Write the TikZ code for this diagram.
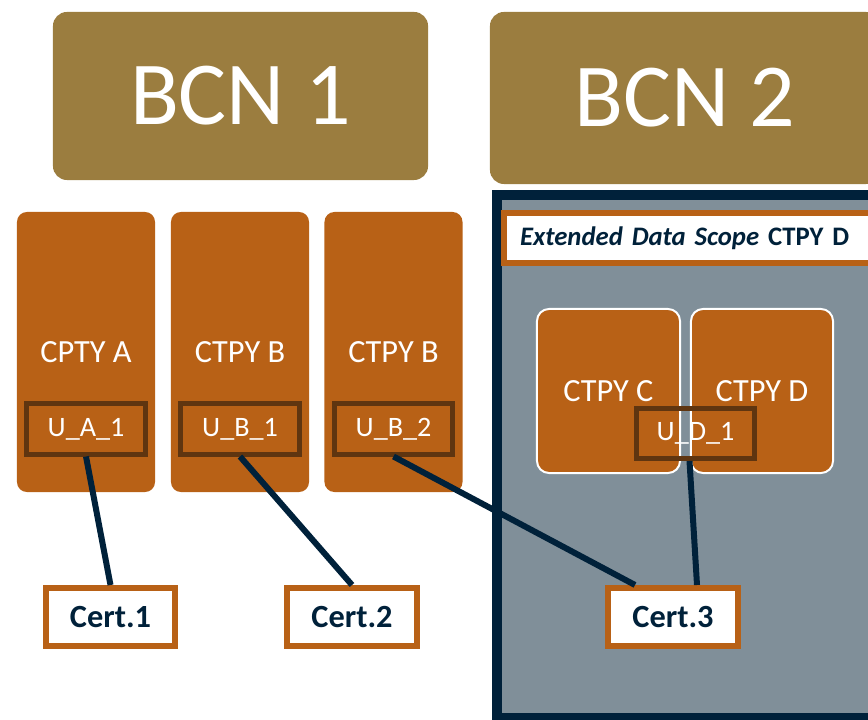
\documentclass[tikz,border=0pt]{standalone}
\usepackage{fontspec}
\setmainfont{Carlito}
\usetikzlibrary{positioning}
\definecolor{bcngold}{HTML}{9B7D3F}
\definecolor{cptyorange}{HTML}{B86116}
\definecolor{userbrown}{HTML}{5F3510}
\definecolor{scopegray}{HTML}{808F99}
\definecolor{navy}{HTML}{00213A}
\begin{document}
\begin{tikzpicture}[x=0.025cm,y=-0.025cm,
	bcn/.style={fill=bcngold,rounded corners=0.35cm,text=white,inner sep=0pt,font=\fontsize{64}{64}\selectfont},
	cpty/.style={fill=cptyorange,rounded corners=0.25cm,text=white,inner sep=0pt,minimum width=3.45cm,minimum height=7cm,font=\fontsize{23}{23}\selectfont},
	cptyin/.style={cpty,draw=white,line width=0.05cm,rounded corners=0.3cm,minimum width=3.55cm,minimum height=4.1cm},
	user/.style={draw=userbrown,line width=0.125cm,text=white,inner sep=0pt,minimum width=2.95cm,minimum height=1.25cm,font=\fontsize{20}{20}\selectfont},
	cert/.style={draw=cptyorange,fill=white,line width=0.15cm,text=navy,inner sep=0pt,minimum width=3.225cm,minimum height=1.45cm,font=\bfseries\fontsize{23}{23}\selectfont},
	wire/.style={draw=navy,line width=0.15cm}]
	\useasboundingbox (0,0) rectangle (868,720);
	\clip (0,0) rectangle (868,720);

	\node[bcn,minimum width=9.375cm,minimum height=4.2cm](BCN1) at (240.5,96){BCN 1};
	\node[bcn,minimum width=9.75cm,minimum height=4.3cm](BCN2) at (685,98){BCN 2};

	% scope of BCN 2
	\draw[navy,line width=0.25cm,fill=scopegray] (497,195) rectangle (890,718);
	\node[draw=cptyorange,fill=white,line width=0.15cm,anchor=north west,inner xsep=0.4cm,inner ysep=0pt,
		text width=9.4cm,minimum height=1.25cm,align=left,text=navy,font=\fontsize{19}{19}\selectfont](scope) at (501,210)
		{{\bfseries\itshape Extended Data Scope} {\bfseries CTPY D}};

	\foreach \lbl/\usr/\cx [count=\n] in {CPTY A/U\_A\_1/86,CTPY B/U\_B\_1/240,CTPY B/U\_B\_2/393.5}{
		\node[cpty](P\n) at (\cx,352){\lbl};
		\node[user](U\n) at (\cx,429){\usr};
	}

	\node[cptyin,minimum width=3.575cm](PC) at (608.5,391){CTPY C};
	\node[cptyin](PD) at (762,391){CTPY D};
	\node[user](UD) at (695.5,433.5){U\_D\_1};

	\node[cert](cert1) at (110.5,617){Cert.1};
	\node[cert](cert2) at (352,617){Cert.2};
	\node[cert](cert3) at (673,617){Cert.3};

	\path[wire]
		(U1.south) edge node {} (cert1.north)
		(U2.south) edge node {} (cert2.north)
		(U3.south) edge node {} ([xshift=-0.95cm]cert3.north)
		([xshift=-0.15cm]UD.south) edge node {} ([xshift=0.6cm]cert3.north);
\end{tikzpicture}
\end{document}
